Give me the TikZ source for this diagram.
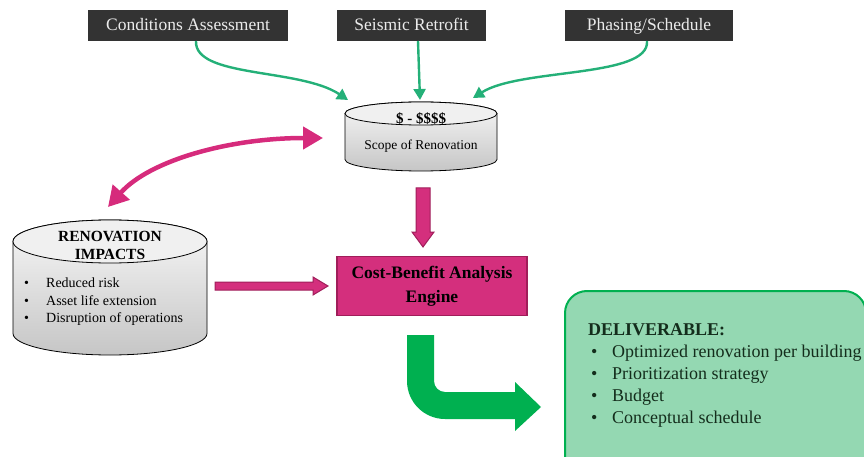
\documentclass[tikz,border=0pt]{standalone}
\usepackage{fontspec}
\setmainfont{Liberation Serif}
\usetikzlibrary{arrows.meta}
\definecolor{darkbox}{HTML}{333333}
\definecolor{tgreen}{RGB}{36,176,120}
\definecolor{mag}{RGB}{214,43,124}
\definecolor{magfill}{RGB}{212,47,125}
\definecolor{magdark}{RGB}{160,30,90}
\definecolor{ogreen}{HTML}{00B050}
\definecolor{delfill}{RGB}{148,216,178}
\definecolor{deltext}{RGB}{20,45,28}
\begin{document}
\begin{tikzpicture}[x=1pt,y=-1pt,
  topbox/.style={fill=darkbox, text=white!92!black, font=\fontsize{17.5}{20}\selectfont, minimum height=31pt, inner sep=0pt, text height=13pt, text depth=3pt},
  feed/.style={draw=tgreen, line width=2.4pt, -{Triangle[length=11pt,width=12pt]}},
  cylbody/.style={top color=gray!6, bottom color=gray!45, draw=black, line width=0.8pt},
  cyltop/.style={fill=gray!12, draw=black, line width=0.8pt},
  blockarrow/.style={fill=magfill, draw=magdark, line width=1pt},
  bul/.style={inner sep=0pt, align=left, anchor=west}
]
\useasboundingbox (0,0) rectangle (864,457);
\clip (0,0) rectangle (864,457);

% top boxes
\node[topbox, minimum width=200pt] (ca) at (188,25.5) {Conditions Assessment};
\node[topbox, minimum width=149pt] (sr) at (411.5,25.5) {Seismic Retrofit};
\node[topbox, minimum width=168pt] (ps) at (649,25.5) {Phasing/Schedule};

% scope cylinder
\draw[cylbody] (345,113.5) -- (345,159.5) arc[start angle=180,end angle=0,x radius=76,y radius=11.5] -- (497,113.5) arc[start angle=0,end angle=-180,x radius=76,y radius=11.5] -- cycle;
\draw[cyltop] (421,113.5) ellipse [x radius=76, y radius=11.5];
\node[font=\bfseries\fontsize{15}{18}\selectfont, inner sep=0pt] (scopeT) at (421,118.5) {\$ - \$\$\$\$};
\node[font=\fontsize{13.5}{16}\selectfont, inner sep=0pt] (scope) at (421,146) {Scope of Renovation};

% feeds
\coordinate (in1) at (348,100);
\coordinate (in2) at (420,100);
\coordinate (in3) at (473,98);
\coordinate (o1) at (196,41);
\coordinate (o2) at (418,41);
\coordinate (o3) at (647,41);
\draw[feed] (o1) .. controls (194,78) and (300,68) .. (in1);
\draw[feed] (o2) -- (in2);
\draw[feed] (o3) .. controls (650,78) and (520,68) .. (in3);

% impacts cylinder
\draw[cylbody] (13,241.5) -- (13,333.5) arc[start angle=180,end angle=0,x radius=97,y radius=21.5] -- (207,241.5) arc[start angle=0,end angle=-180,x radius=97,y radius=21.5] -- cycle;
\draw[cyltop] (110,241.5) ellipse [x radius=97, y radius=21.5];
\node[font=\bfseries\fontsize{15.5}{18}\selectfont, align=center, inner sep=0pt] (impT) at (110,245) {RENOVATION\\IMPACTS};
\node[bul, font=\fontsize{14}{17.5}\selectfont] (impL) at (24,302) {\makebox[22pt][l]{\textbullet}Reduced risk\\\makebox[22pt][l]{\textbullet}Asset life extension\\\makebox[22pt][l]{\textbullet}Disruption of operations};

% double arrow
\coordinate (dl) at (108,207);
\coordinate (dr) at (323,138);
\draw[mag, line width=4.5pt, {Triangle[length=20pt,width=22pt]}-{Triangle[length=20pt,width=22pt]}] (dl) .. controls (150,160) and (230,138) .. (dr);

% cost benefit
\node[fill=magfill, draw=magdark, line width=1.2pt, minimum width=190pt, minimum height=59pt, font=\bfseries\fontsize{17.5}{24}\selectfont, align=center] (cba) at (432,286) {Cost-Benefit Analysis\\Engine};

% block arrows
\draw[blockarrow] (416,188) -- (430,188) -- (430,232) -- (434,232) -- (423,247) -- (412,232) -- (416,232) -- cycle;
\draw[blockarrow] (215,282) -- (313,282) -- (313,277) -- (328,286) -- (313,295) -- (313,290) -- (215,290) -- cycle;

% green bent arrow
\fill[ogreen] (407,335) -- (434,335) -- (434,381) arc[start angle=180,end angle=90,radius=11] -- (515,392) -- (515,382) -- (541,407) -- (515,431) -- (515,419) -- (445,419) arc[start angle=90,end angle=180,radius=38] -- cycle;

% deliverable
\node[draw=ogreen, fill=delfill, line width=2pt, rounded corners=22pt, minimum width=301pt, minimum height=189pt] (del) at (715.5,385.5) {};
\node[bul, font=\fontsize{18}{21.8}\selectfont, text=deltext] (delT) at (588,375.5) {\textbf{DELIVERABLE:}\\\hspace*{3pt}\makebox[21pt][l]{\textbullet}Optimized renovation per building\\\hspace*{3pt}\makebox[21pt][l]{\textbullet}Prioritization strategy\\\hspace*{3pt}\makebox[21pt][l]{\textbullet}Budget\\\hspace*{3pt}\makebox[21pt][l]{\textbullet}Conceptual schedule};
\end{tikzpicture}
\end{document}
